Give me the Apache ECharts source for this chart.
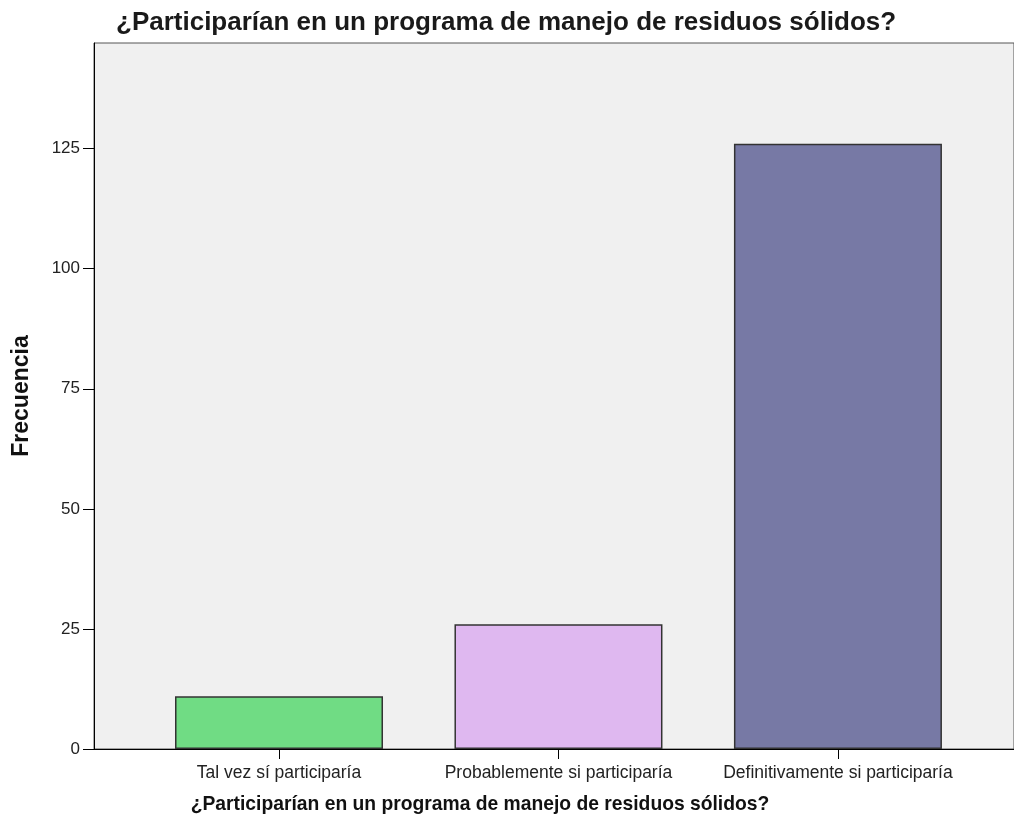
<!DOCTYPE html>
<html>
<head>
<meta charset="utf-8">
<script src="https://cdn.jsdelivr.net/npm/echarts@6/dist/echarts.min.js"></script>
<style>
  html, body { margin: 0; padding: 0; background: #fff; }
  #box { width: 1014px; height: 829px; }
</style>
</head>
<body>
<div id="box"></div>
<script>
// categorias y frecuencias
var categorias = ['Tal vez sí participaría', 'Probablemente si participaría', 'Definitivamente si participaría'];
var posiciones = [1, 2, 3];
var frecuencias = [11, 26, 126];
var colores = ['#70dc84', '#dfb8f0', '#7779a5'];
var ticksY = [0, 25, 50, 75, 100, 125];

var titulo = '¿Participarían en un programa de manejo de residuos sólidos?';

var datos = [];
for (var i = 0; i < frecuencias.length; i++) {
  datos.push({
    value: [posiciones[i], frecuencias[i]],
    itemStyle: { color: colores[i] }
  });
}

var option = {
  animation: false,
  title: [
    {
      text: titulo,
      left: 111,
      top: 5,
      textStyle: { fontFamily: 'Liberation Sans', fontSize: 26, fontWeight: 'bold', color: '#1a1a1a' }
    },
    {
      text: titulo,
      left: 475,
      top: 790,
      textAlign: 'center',
      textStyle: { fontFamily: 'Liberation Sans', fontSize: 19.3, fontWeight: 'bold', color: '#111' }
    }
  ],
  grid: {
    left: 94, right: -3, top: 43, bottom: 80,
    show: true,
    backgroundColor: '#f0f0f0',
    borderColor: '#555',
    borderWidth: 1
  },
  xAxis: {
    type: 'value',
    min: 0.338,
    max: 3.63,
    splitLine: { show: false },
    axisLine: { show: true, onZero: false, lineStyle: { color: '#000', width: 1 } },
    axisTick: { show: true, customValues: posiciones, length: 10, lineStyle: { color: '#000' } },
    axisLabel: {
      customValues: posiciones,
      margin: 15,
      fontFamily: 'Liberation Sans',
      fontSize: 17.5,
      color: '#222',
      formatter: function (v) { return categorias[Math.round(v) - 1]; }
    }
  },
  yAxis: {
    type: 'value',
    min: 0,
    max: 147,
    name: 'Frecuencia',
    nameLocation: 'middle',
    nameGap: 61,
    nameRotate: 90,
    nameTextStyle: { fontFamily: 'Liberation Sans', fontSize: 23, fontWeight: 'bold', color: '#111' },
    splitLine: { show: false },
    axisLine: { show: true, lineStyle: { color: '#000', width: 1 } },
    axisTick: { show: true, customValues: ticksY, length: 11, lineStyle: { color: '#000' } },
    axisLabel: {
      customValues: ticksY,
      margin: 14,
      fontFamily: 'Liberation Sans',
      fontSize: 17,
      color: '#222'
    }
  },
  series: [
    {
      type: 'bar',
      barWidth: 208,
      data: datos,
      itemStyle: { borderColor: '#333', borderWidth: 1.5 }
    }
  ]
};

var myChart = echarts.init(document.getElementById('box'));
myChart.setOption(option);
</script>
</body>
</html>
